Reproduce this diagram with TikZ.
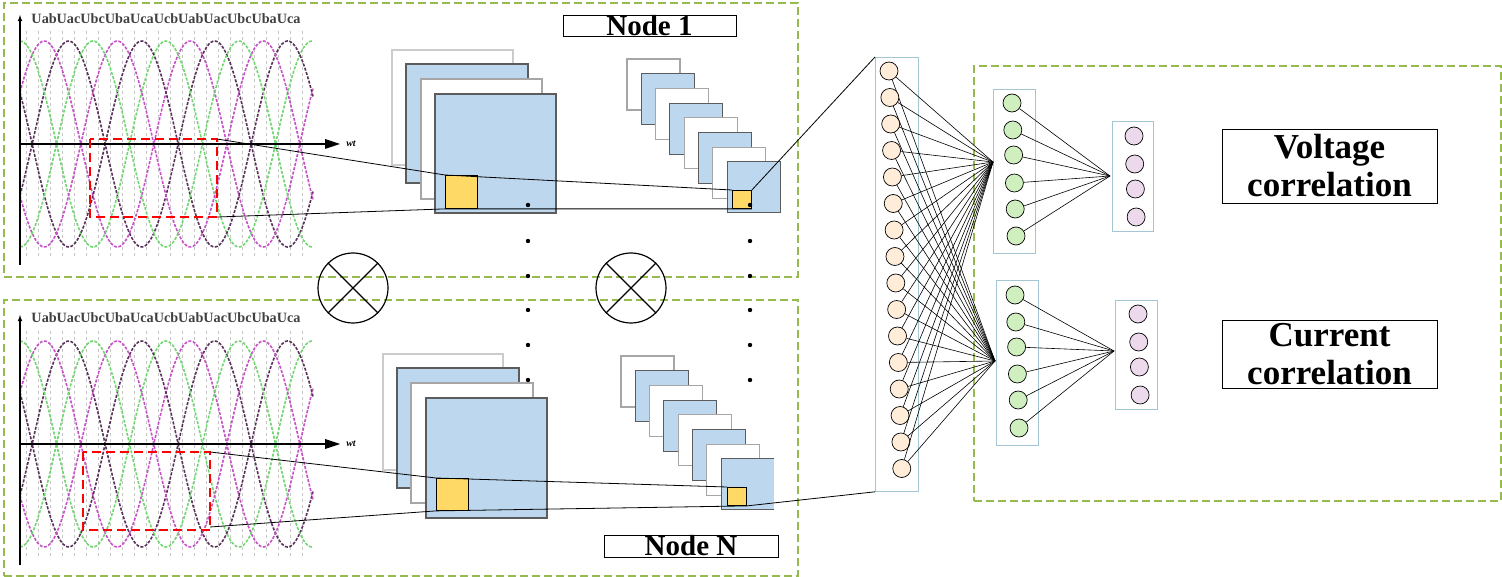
\documentclass[tikz,border=0pt]{standalone}
\usepackage{fontspec}
\setmainfont{Liberation Serif}
\definecolor{pblue}{RGB}{189,215,238}
\definecolor{pyel}{RGB}{255,217,102}
\definecolor{pgreen}{RGB}{150,185,80}
\definecolor{wdark}{RGB}{90,50,90}
\definecolor{wmag}{RGB}{200,80,200}
\definecolor{wgrn}{RGB}{110,215,110}
\begin{document}
\begin{tikzpicture}[x=1pt,y=-1pt,
  panel/.style={draw=pgreen,dash pattern=on 8pt off 4pt,line width=1.6pt},
  fw/.style={draw=gray!70,line width=1.1pt,fill=white},
  fb/.style={draw=gray!40!black!80,line width=1.1pt,fill=pblue},
  yel/.style={draw=black,line width=0.9pt,fill=pyel},
  lbl/.style={draw=black,line width=0.8pt,font=\bfseries\fontsize{29}{29}\selectfont,inner sep=0pt},
  neuron/.style={circle,draw=black,line width=0.7pt,minimum size=18pt,inner sep=0pt},
  orn/.style={neuron,fill=orange!15},
  grn/.style={neuron,fill=green!50!olive!25!white},
  prp/.style={neuron,fill=violet!15},
  lay/.style={draw=cyan!40!gray!60,line width=0.8pt},
  conn/.style={draw=black,line width=0.6pt},
  ln/.style={draw=black,line width=0.8pt}]
\useasboundingbox (0,0) rectangle (1502,577);
% panels
\node[panel,minimum width=794pt,minimum height=274pt,anchor=north west] (p1) at (3,2) {};
\node[panel,minimum width=794pt,minimum height=276pt,anchor=north west] (p2) at (3,299) {};
\node[panel,minimum width=527pt,minimum height=435pt,anchor=north west] (p3) at (973,65) {};
% waveforms
\foreach \yc/\lb/\ax/\ay/\rx/\ry in {144/19/20/14/90/139, 444/318/20/310/83/452}{
  \begin{scope}
  \foreach \gx in {26,38,...,313}{\draw[gray!45,dashed,line width=0.4pt] (\gx,\yc-113) -- (\gx,\yc+113);}
  \foreach \k/\c in {0/wdark,1/wmag,2/wgrn,3/wdark,4/wmag,5/wgrn}{
    \draw[\c,line width=1.6pt,dash pattern=on 3pt off 1.5pt] plot[domain=20:313,samples=150] (\x,{\yc-103*sin((\x-20)*2.4658-30+60*\k)});}
  \end{scope}
  \draw[black,line width=1.1pt,-latex] (\ax,\yc+121) -- (\ax,\yc-129);
  \draw[black,line width=1.1pt] (\ax,\yc) -- (325,\yc);
  \fill (325,\yc-5) -- (340,\yc) -- (325,\yc+5) -- cycle;
  \node[font=\bfseries\itshape\fontsize{10}{10}\selectfont] at (351,\yc) {wt};
  \node[font=\bfseries\fontsize{14.2}{14}\selectfont,text=black!75,inner sep=0pt] at (166,\lb) {UabUacUbcUbaUcaUcbUabUacUbcUbaUca};
  \draw[red,line width=1.8pt,dash pattern=on 9pt off 5pt] (\rx,\ry) rectangle (\rx+127,\ry+78);
}
\coordinate (r1a) at (217,139); \coordinate (r1b) at (217,217);
\coordinate (r2a) at (210,452); \coordinate (r2b) at (210,527);
% big stacks
\draw[fw,draw=gray!40] (392,50) rectangle (513,165);
\draw[fb] (406,64) rectangle (528,183);
\draw[fw] (421,79) rectangle (542,199);
\draw[fb] (435,94) rectangle (556,213);
\node[yel,minimum width=32pt,minimum height=33pt,anchor=north west] (y1) at (445,175) {};
\draw[fw,draw=gray!40] (383,354) rectangle (503,470);
\draw[fb] (397,368) rectangle (519,488);
\draw[fw] (411,383) rectangle (533,503);
\draw[fb] (426,398) rectangle (547,518);
\node[yel,minimum width=32pt,minimum height=32pt,anchor=north west] (y3) at (436,478) {};
% small stacks
\foreach \i in {0,...,7}{
  \pgfmathsetmacro{\xx}{627+14.3*\i}\pgfmathsetmacro{\yy}{59+14.7*\i}
  \pgfmathtruncatemacro{\od}{mod(\i,2)}
  \ifnum\od=0 \draw[fw] (\xx,\yy) rectangle ++(53,51); \else \draw[fb] (\xx,\yy) rectangle ++(53,51);\fi
  \pgfmathsetmacro{\xx}{621+14.3*\i}\pgfmathsetmacro{\yy}{356+14.7*\i}
  \ifnum\od=0 \draw[fw] (\xx,\yy) rectangle ++(53,51); \else \draw[fb] (\xx,\yy) rectangle ++(53,51);\fi
}
\node[yel,minimum width=19pt,minimum height=18pt,anchor=north west] (y2) at (732,190) {};
\node[yel,minimum width=19pt,minimum height=18pt,anchor=north west] (y4) at (727,487) {};
\fill[white] (774,450) rectangle (790,520);
% dots
\foreach \dy in {205,241,276,310,345,380}{\fill (528,\dy) circle (2.2pt); \fill (750,\dy) circle (2.2pt);}
% otimes
\foreach \n/\cx in {o1/353,o2/631}{
  \node[circle,draw,line width=1.2pt,minimum size=70pt,inner sep=0pt] (\n) at (\cx,288) {};
  \draw[line width=1.2pt] (\n.north west) -- (\n.south east) (\n.north east) -- (\n.south west);}
% labels
\node[lbl,minimum width=173pt,minimum height=21pt] (n1) at (649.5,25.5) {Node 1};
\node[lbl,minimum width=174pt,minimum height=22pt] (nN) at (691,546) {Node N};
% connectors
\draw[ln] (r1a) -- (y1.north west) -- (y2.north west);
\draw[ln] (r1b) -- (y1.south west) -- (y2.south east);
\draw[ln] (r2a) -- (y3.north west) -- (y4.north west);
\draw[ln] (r2b) -- (y3.south west) -- (y4.south east);
% network
\node[lay,minimum width=43pt,minimum height=434pt,anchor=north west] (L1) at (875,57) {};
\node[lay,minimum width=42pt,minimum height=164pt,anchor=north west] (L2) at (993,89) {};
\node[lay,minimum width=42pt,minimum height=165pt,anchor=north west] (L3) at (996,280) {};
\node[lay,minimum width=41pt,minimum height=110pt,anchor=north west] (L4) at (1112,121) {};
\node[lay,minimum width=42pt,minimum height=109pt,anchor=north west] (L5) at (1115,300) {};
\draw[ln] (y2.north east) -- (L1.north west);
\draw[ln] (y4.south east) -- (L1.south west);
\coordinate (c1) at (993,162); \coordinate (c2) at (995,361);
\coordinate (c3) at (1110,176); \coordinate (c4) at (1114,351);
\foreach \i in {0,...,15}{
  \node[orn] (o\i) at ({889+0.85*\i},{71+26.5*\i}) {};
  \draw[conn] (o\i) -- (c1); \draw[conn] (o\i) -- (c2);}
\foreach \i/\y in {0/103,1/130,2/155,3/183,4/209,5/236}{
  \node[grn] (g\i) at ({1012+0.8*\i},\y) {}; \draw[conn] (g\i) -- (c3);}
\foreach \i/\y in {0/295,1/322,2/347,3/374,4/400,5/428}{
  \node[grn] (h\i) at ({1015+0.8*\i},\y) {}; \draw[conn] (h\i) -- (c4);}
\foreach \i/\y in {0/136,1/164,2/189,3/217}{\node[prp] (p\i) at ({1134+0.7*\i},\y) {};}
\foreach \i/\y in {0/314,1/342,2/367,3/395}{\node[prp] (q\i) at ({1138+0.7*\i},\y) {};}
\node[lbl,minimum width=215pt,minimum height=74pt,align=center,font=\bfseries\fontsize{35}{38}\selectfont] (vc) at (1329.5,166) {Voltage\\correlation};
\node[lbl,minimum width=215pt,minimum height=68pt,align=center,font=\bfseries\fontsize{35}{38}\selectfont] (cc) at (1329.5,354) {Current\\correlation};
\end{tikzpicture}
\end{document}
